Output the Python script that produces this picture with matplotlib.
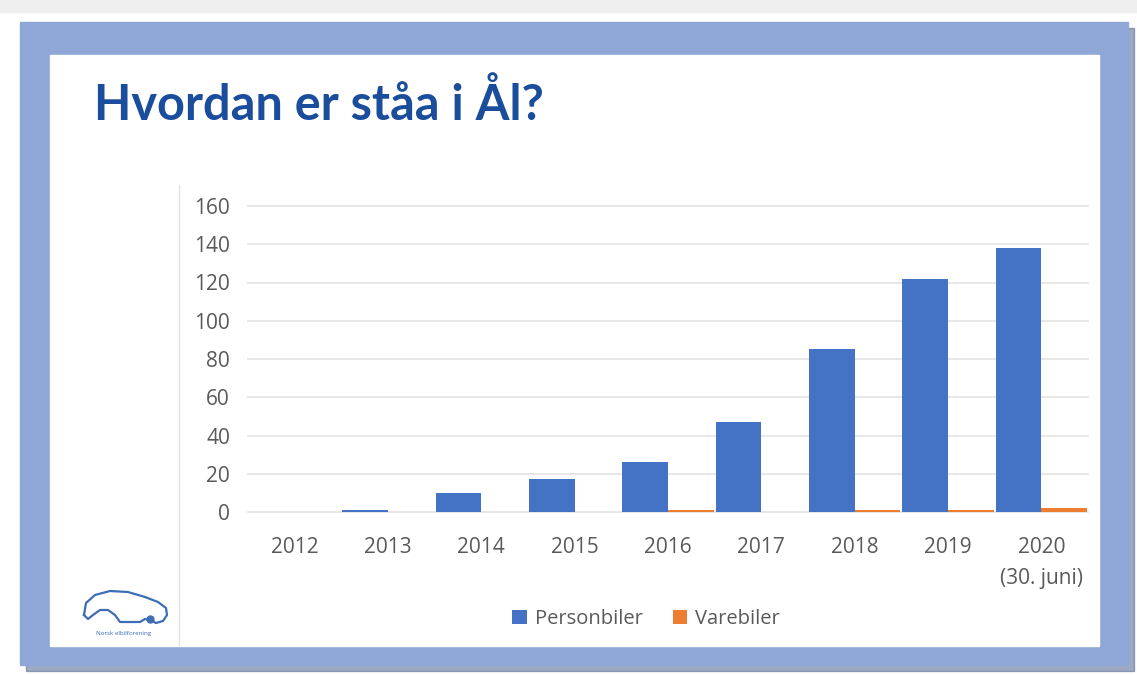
import matplotlib
matplotlib.use("Agg")
import matplotlib.pyplot as plt
import numpy as np
from matplotlib.patches import Rectangle
from matplotlib.lines import Line2D

years = ["2012", "2013", "2014", "2015", "2016", "2017", "2018", "2019", "2020\n(30. juni)"]
personbiler = [0, 1, 10, 17, 26, 47, 85, 122, 138]
varebiler = [0, 0, 0, 0, 1, 0, 1, 1, 2]
yticks = [0, 20, 40, 60, 80, 100, 120, 140, 160]
title = "Hvordan er ståa i Ål?"

W, H = 1137, 675
fig = plt.figure(figsize=(W / 100, H / 100), dpi=100)
fig.patch.set_facecolor("white")

def px(x, y):
    return x / W, 1 - y / H

def rect(x0, y0, x1, y1, **kw):
    fx0, fy1 = px(x0, y0)
    fx1, fy0 = px(x1, y1)
    r = Rectangle((fx0, fy0), fx1 - fx0, fy1 - fy0, transform=fig.transFigure, **kw)
    fig.patches.append(r)

# background / frame
rect(0, 0, W, 12, color="#EFEFEF", zorder=0)
rect(26, 28, 1134, 671, color="#4F6390", zorder=1, alpha=0.55)
rect(20, 22, 1128, 665, color="#8FA7D6", zorder=2)
rect(50, 55, 1099, 646, color="white", zorder=3)

# chart area left border
fig.add_artist(Line2D([179 / W, 179 / W], [1 - 185 / H, 1 - 645 / H], transform=fig.transFigure,
                      color="#E3E3E3", lw=1, zorder=4))

# title
tx, ty = px(94, 104)
fig.text(tx, ty, title, fontsize=35, fontweight="bold", color="#1A4D9C", family="Lato",
         va="center", ha="left", zorder=5)

# axes
l, b = px(248, 512)
r_, t = px(1088, 206)
ax = fig.add_axes([l, b, r_ - l, t - b], zorder=6)
ax.set_facecolor("none")
x = np.arange(len(years))
w = 0.49
ax.bar(x - w / 2, personbiler, width=w, color="#4472C4", label="Personbiler", zorder=3)
ax.bar(x + w / 2, varebiler, width=w, color="#ED7D31", label="Varebiler", zorder=3)
ax.set_xlim(-0.5, len(years) - 0.5)
ax.set_ylim(0, 160)
ax.set_yticks(yticks)
ax.set_yticklabels([str(v) for v in yticks])
ax.set_xticks(x)
ax.set_xticklabels(years, linespacing=1.6)
for s in ax.spines.values():
    s.set_visible(False)
ax.grid(axis="y", color="#E3E3E3", lw=1.2, zorder=0)
ax.tick_params(length=0, colors="#595959", labelsize=15)
ax.tick_params(axis="y", pad=13)
ax.tick_params(axis="x", pad=18)
for lab in ax.get_xticklabels() + ax.get_yticklabels():
    lab.set_family("Open Sans")
    lab.set_color("#595959")
for gl in ax.get_ygridlines():
    gl.set_clip_on(False)

# legend
lx, ly = px(646, 619)
leg = fig.legend(loc="center", bbox_to_anchor=(lx, ly), ncol=2, frameon=False,
                 prop={"family": "Open Sans", "size": 14.5}, handlelength=0.7, handleheight=0.7,
                 handletextpad=0.4, columnspacing=1.5)
for txt in leg.get_texts():
    txt.set_color("#595959")
leg.set_zorder(7)

# logo (simple car outline)
cx = np.array([84, 86, 95, 110, 128, 145, 158, 166, 167, 163, 156, 150, 145, 140, 120, 115, 108, 100, 93, 88, 84])
cy = np.array([615, 603, 595, 591, 592, 597, 602, 608, 615, 621, 623, 620, 619, 622, 622, 615, 610, 610, 615, 619, 615])
fig.add_artist(Line2D(cx / W, 1 - cy / H, transform=fig.transFigure, color="#3D6DB5", lw=1.6, zorder=5))
fig.add_artist(Line2D([150 / W], [1 - 619 / H], transform=fig.transFigure, marker="o", ms=5,
                      color="#3D6DB5", zorder=5))
gx, gy = px(124, 634)
fig.text(gx, gy, "Norsk elbilforening", fontsize=4.5, color="#3D6DB5", ha="center", va="center",
         family="Open Sans", zorder=5)

fig.savefig("out.png", dpi=100, facecolor=fig.get_facecolor())
